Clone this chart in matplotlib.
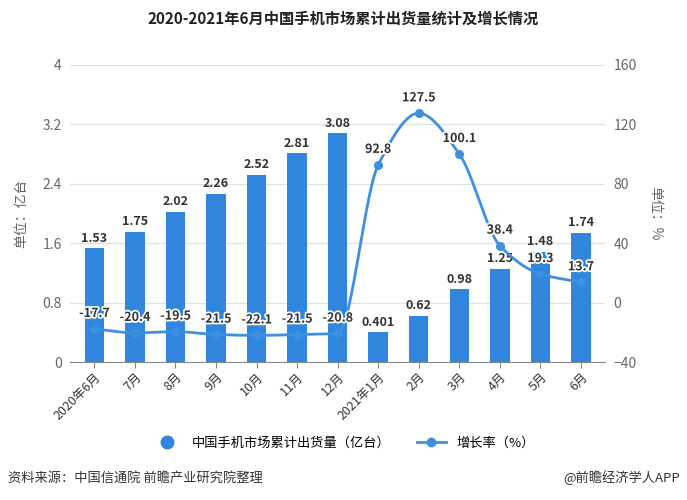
import numpy as np
import matplotlib.pyplot as plt
import matplotlib.patheffects as pe

plt.rcParams['font.family'] = ['Noto Sans CJK SC', 'DejaVu Sans']

# data
months = ['2020年6月', '7月', '8月', '9月', '10月', '11月', '12月',
          '2021年1月', '2月', '3月', '4月', '5月', '6月']
shipments = [1.53, 1.75, 2.02, 2.26, 2.52, 2.81, 3.08,
             0.401, 0.62, 0.98, 1.25, 1.48, 1.74]
growth = [-17.7, -20.4, -19.5, -21.5, -22.1, -21.5, -20.8,
          92.8, 127.5, 100.1, 38.4, 19.3, 13.7]

bar_color = '#2f86dc'
line_color = '#3d8fe0'
gray = '#666666'


def smooth(xs, ys, n=30):
    # monotone cubic (Fritsch-Carlson) for drawing the curve only
    xs = np.asarray(xs, float)
    ys = np.asarray(ys, float)
    h = np.diff(xs)
    d = np.diff(ys) / h
    m = np.zeros_like(ys)
    m[0], m[-1] = d[0], d[-1]
    for i in range(1, len(ys) - 1):
        if d[i - 1] * d[i] <= 0:
            m[i] = 0
        else:
            m[i] = 2 / (1 / d[i - 1] + 1 / d[i])
    out_x, out_y = [], []
    for i in range(len(xs) - 1):
        t = np.linspace(0, 1, n, endpoint=False)
        h00 = 2 * t**3 - 3 * t**2 + 1
        h10 = t**3 - 2 * t**2 + t
        h01 = -2 * t**3 + 3 * t**2
        h11 = t**3 - t**2
        out_y.extend(h00 * ys[i] + h10 * h[i] * m[i] + h01 * ys[i + 1] + h11 * h[i] * m[i + 1])
        out_x.extend(xs[i] + t * h[i])
    out_x.append(xs[-1])
    out_y.append(ys[-1])
    return np.array(out_x), np.array(out_y)


fig = plt.figure(figsize=(6.87, 5), dpi=100)
ax = fig.add_axes([0.102, 0.276, 0.779, 0.594])
ax2 = ax.twinx()

x = np.arange(len(months))
bars = ax.bar(x, shipments, width=0.48, color=bar_color, zorder=2,
              label='中国手机市场累计出货量（亿台）')
for xi, v in zip(x, shipments):
    ax.text(xi, v + 0.05, f'{v:g}', ha='center', va='bottom',
            fontsize=9, fontweight='bold', color='#333333')

sx, sy = smooth(x, growth)
ax2.plot(sx, sy, color=line_color, lw=2, zorder=3)
ax2.plot(x, growth, 'o', color=line_color, ms=5.5, zorder=4)
ax2.plot([], [], '-o', color=line_color, lw=2, ms=6, label='增长率（%）')
for xi, v in zip(x, growth):
    ax2.text(xi, v + 6, f'{v:g}', ha='center', va='bottom',
             fontsize=9, fontweight='bold', color='#333333',
             path_effects=[pe.withStroke(linewidth=2.5, foreground='white')],
             zorder=5)

ax.set_xlim(-0.6, len(months) - 0.4)
ax.set_ylim(0, 4)
ax.set_yticks([0, 0.8, 1.6, 2.4, 3.2, 4])
ax.set_yticklabels(['0', '0.8', '1.6', '2.4', '3.2', '4'])
ax2.set_ylim(-40, 160)
ax2.set_yticks([-40, 0, 40, 80, 120, 160])

ax.set_xticks(x)
ax.set_xticklabels(months, rotation=45, ha='right', rotation_mode='anchor',
                   fontsize=9, color='#333333')
ax.grid(axis='y', color='#e0e0e0', lw=0.8, zorder=0)
ax.set_axisbelow(True)

for a in (ax, ax2):
    for s in a.spines.values():
        s.set_visible(False)
    a.tick_params(axis='y', length=0, colors=gray, labelsize=10)
ax.spines['bottom'].set_visible(True)
ax.spines['bottom'].set_color('#888888')
ax.tick_params(axis='x', length=4, color='#888888', pad=2)
ax2.tick_params(axis='y', pad=6)
ax.tick_params(axis='y', pad=6)

ax.set_ylabel('单位：亿台', color=gray, fontsize=10, labelpad=10)
ax2.set_ylabel('单位：%', color=gray, fontsize=10, rotation=270, labelpad=18)

h1, l1 = ax.get_legend_handles_labels()
h2, l2 = ax2.get_legend_handles_labels()
fig.legend([plt.Line2D([], [], marker='o', ls='', color=bar_color, ms=9), h2[0]],
           l1 + l2, loc='center', bbox_to_anchor=(0.5, 0.114), ncol=2,
           frameon=False, fontsize=9.5, handlelength=2.2, columnspacing=2)

fig.text(0.5, 0.962, '2020-2021年6月中国手机市场累计出货量统计及增长情况',
         ha='center', va='center', fontsize=11, fontweight='bold', color='#222222')
fig.text(0.012, 0.044, '资料来源：中国信通院 前瞻产业研究院整理',
         ha='left', va='center', fontsize=9.5, color='#333333')
fig.text(0.99, 0.044, '@前瞻经济学人APP',
         ha='right', va='center', fontsize=9.5, color='#333333')

fig.savefig('out.png', dpi=100)
